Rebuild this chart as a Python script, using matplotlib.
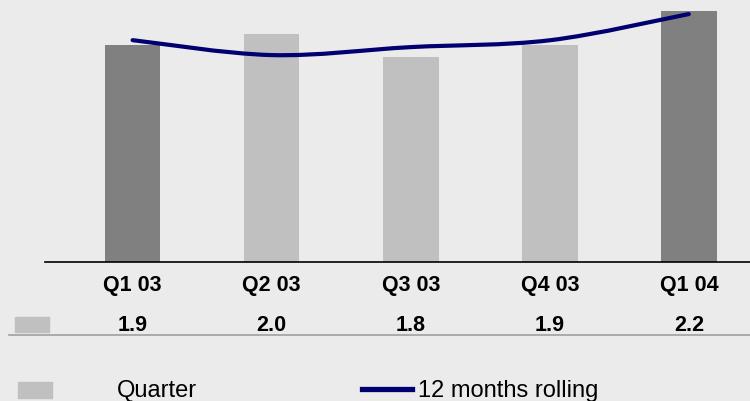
import matplotlib
matplotlib.use("Agg")
import matplotlib.pyplot as plt
import matplotlib.transforms as mtransforms
import numpy as np
from matplotlib.path import Path
from matplotlib.patches import PathPatch, Rectangle

plt.rcParams['font.family'] = ['Liberation Sans', 'DejaVu Sans']

# Quarterly figures and the 12 month rolling average
quarters = ['Q1 03', 'Q2 03', 'Q3 03', 'Q4 03', 'Q1 04']
quarter_values = [1.9, 2.0, 1.8, 1.9, 2.2]
rolling_values = [1.946, 1.815, 1.885, 1.945, 2.175]
highlight = [True, False, False, False, True]

bg = '#ebebeb'
dark_bar = '#808080'
light_bar = '#c0c0c0'
navy = '#000070'

fig = plt.figure(figsize=(7.5, 4.02), dpi=100, facecolor=bg)
ax = fig.add_axes([45 / 750, 1 - 263 / 402, 705 / 750, 263 / 402])
ax.set_facecolor(bg)

x = np.arange(len(quarters))
colors = [dark_bar if h else light_bar for h in highlight]
ax.bar(x, quarter_values, width=0.4, color=colors, zorder=2)

# smooth rolling line (Catmull-Rom segments as cubic Beziers)
pts = np.column_stack([x, rolling_values]).astype(float)
verts = [tuple(pts[0])]
codes = [Path.MOVETO]
for i in range(len(pts) - 1):
    p0 = pts[i - 1] if i > 0 else pts[i]
    p1, p2 = pts[i], pts[i + 1]
    p3 = pts[i + 2] if i + 2 < len(pts) else pts[i + 1]
    c1 = p1 + (p2 - p0) / 6
    c2 = p2 - (p3 - p1) / 6
    verts += [tuple(c1), tuple(c2), tuple(p2)]
    codes += [Path.CURVE4] * 3
ax.add_patch(PathPatch(Path(verts, codes), facecolor='none', edgecolor=navy,
                       lw=3, capstyle='round', zorder=3))

ax.set_xlim(-0.63, 4.44)
ax.set_ylim(0, 263 / 114)
for s in ['top', 'right', 'left']:
    ax.spines[s].set_visible(False)
ax.spines['bottom'].set_linewidth(1.2)
ax.spines['bottom'].set_color('black')
ax.set_yticks([])
ax.set_xticks(x)
ax.set_xticklabels(quarters, fontsize=15.5, fontweight='bold')
ax.tick_params(axis='x', length=0, pad=9)

# value row under the category labels
row_trans = mtransforms.blended_transform_factory(ax.transData, fig.transFigure)
row_y = 1 - 326 / 402
for xi, v in zip(x, quarter_values):
    ax.text(xi, row_y, f'{v:.1f}', transform=row_trans,
            ha='center', va='center', fontsize=15.5, fontweight='bold')

fig.patches.append(Rectangle((15 / 750, 1 - 333 / 402), 34 / 750, 15 / 402,
                             transform=fig.transFigure, color=light_bar))
fig.add_artist(plt.Line2D([9 / 750, 1], [1 - 335.5 / 402] * 2,
                          transform=fig.transFigure, color='#a0a0a0', lw=1.2))

# legend
leg_y = 1 - 391 / 402
fig.patches.append(Rectangle((18 / 750, 1 - 399 / 402), 34 / 750, 16 / 402,
                             transform=fig.transFigure, color=light_bar))
fig.text(117 / 750, leg_y, 'Quarter', ha='left', va='center', fontsize=17)
fig.add_artist(plt.Line2D([362 / 750, 412 / 750], [1 - 390 / 402] * 2,
                          transform=fig.transFigure, color=navy, lw=3.8))
fig.text(418 / 750, leg_y, '12 months rolling', ha='left', va='center', fontsize=17)

fig.savefig('out.png', dpi=100, facecolor=bg)
